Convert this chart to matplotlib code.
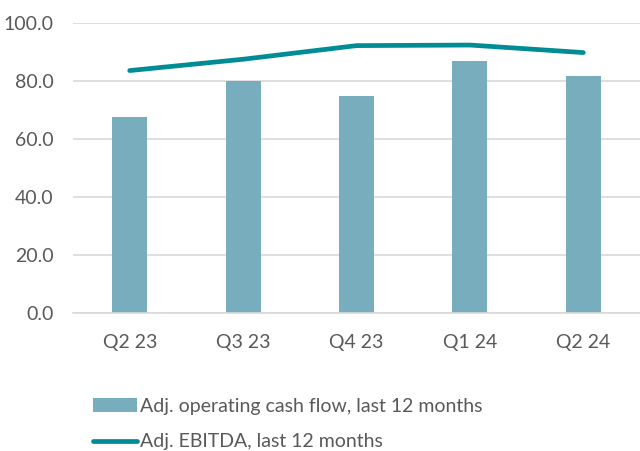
import numpy as np
import matplotlib.pyplot as plt

quarters = ['Q2 23', 'Q3 23', 'Q4 23', 'Q1 24', 'Q2 24']
cash_flow = [67.6, 80.0, 75.0, 86.9, 81.6]
ebitda = [83.6, 87.5, 92.2, 92.4, 89.8]

bar_col = '#77ADBC'
line_col = '#008C95'
txt_col = '#595959'

plt.rcParams['font.family'] = ['Lato', 'DejaVu Sans']

fig = plt.figure(figsize=(6.4, 4.51), dpi=100)
ax = fig.add_axes([73/640, 1-313/451, 1-73/640, 290/451])

x = np.arange(len(quarters))
bars = ax.bar(x, cash_flow, width=0.31, color=bar_col, zorder=2,
              label='Adj. operating cash flow, last 12 months')
line, = ax.plot(x, ebitda, color=line_col, lw=3.4, solid_capstyle='round', zorder=3,
                label='Adj. EBITDA, last 12 months')

ax.set_ylim(0, 100)
ax.set_xlim(-0.5, 4.5)
ax.set_yticks(np.arange(0, 101, 20))
ax.set_yticklabels(['%.1f' % v for v in np.arange(0, 101, 20)])
ax.set_xticks(x)
ax.set_xticklabels(quarters)
ax.grid(True, axis='y', color='#D9D9D9', lw=1.2, zorder=0)
ax.tick_params(length=0, labelsize=14, colors=txt_col)
ax.tick_params(axis='y', pad=14)
ax.tick_params(axis='x', pad=15)
for s in ['top', 'right', 'left']:
    ax.spines[s].set_visible(False)
ax.spines['bottom'].set_color('#D9D9D9')
ax.spines['bottom'].set_linewidth(1.2)

fig.legend([bars, line], [bars.get_label(), line.get_label()],
           loc='upper left', bbox_to_anchor=(0.133, 0.135), frameon=False,
           fontsize=14, labelcolor=txt_col, handlelength=2.25, handletextpad=0.15,
           labelspacing=0.95, borderaxespad=0)

fig.savefig('out.png', dpi=100)
